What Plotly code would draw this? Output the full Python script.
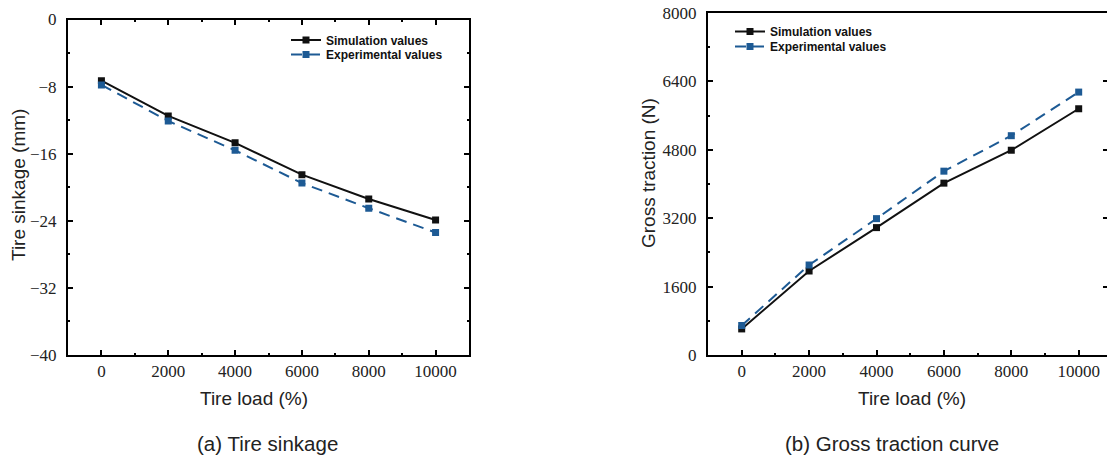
import plotly.graph_objects as go

# ---- data ----
tire_load = [0, 2000, 4000, 6000, 8000, 10000]
sinkage_sim = [-7.3, -11.5, -14.7, -18.5, -21.4, -23.9]
sinkage_exp = [-7.8, -12.1, -15.6, -19.5, -22.5, -25.4]
traction_sim = [610, 1965, 2980, 4020, 4790, 5760]
traction_exp = [690, 2105, 3190, 4300, 5130, 6150]

x_ticks = [0, 2000, 4000, 6000, 8000, 10000]
x_tick_text = ["0", "2000", "4000", "6000", "8000", "10000"]
sink_ticks = [0, -8, -16, -24, -32, -40]
sink_tick_text = ["0", "−8", "−16", "−24", "−32", "−40"]
trac_ticks = [0, 1600, 3200, 4800, 6400, 8000]
trac_tick_text = ["0", "1600", "3200", "4800", "6400", "8000"]

sim_name = "Simulation values"
exp_name = "Experimental values"

BLACK = "#111111"
BLUE = "#1d5a94"
W, H = 1107, 456

fig = go.Figure()

def add_pair(xa, ya, sim, exp, leg_sim, leg_exp):
    fig.add_trace(go.Scatter(x=tire_load, y=sim, name=sim_name, mode="lines+markers",
                             line=dict(color=BLACK, width=2),
                             marker=dict(symbol="square", size=7, color=BLACK),
                             xaxis=xa, yaxis=ya, legend=leg_sim))
    fig.add_trace(go.Scatter(x=tire_load, y=exp, name=exp_name, mode="lines+markers",
                             line=dict(color=BLUE, width=2, dash="11px,7px"),
                             marker=dict(symbol="square", size=7, color=BLUE),
                             xaxis=xa, yaxis=ya, legend=leg_exp))

add_pair("x", "y", sinkage_sim, sinkage_exp, "legend", "legend2")
add_pair("x2", "y2", traction_sim, traction_exp, "legend3", "legend4")

# dummy trace to activate the right-hand tick axis of panel (b)
fig.add_trace(go.Scatter(x=[None], y=[None], xaxis="x2", yaxis="y3",
                         showlegend=False, hoverinfo="skip"))

tickfont = dict(family="Liberation Serif", size=17, color="#222")
minor_x = dict(ticks="inside", ticklen=2, tickwidth=2, dtick=1000, tick0=0,
               tickcolor="black", showgrid=False)
common_x = dict(showline=True, linecolor="black", linewidth=2, ticks="inside", ticklen=5,
                tickwidth=2, tickcolor="black", showgrid=False, zeroline=False,
                tickvals=x_ticks, ticktext=x_tick_text, tickfont=tickfont,
                automargin=False, minor=minor_x)
common_y = dict(showline=True, linecolor="black", linewidth=2, ticks="inside", ticklen=5,
                tickwidth=2, tickcolor="black", showgrid=False, zeroline=False,
                tickfont=tickfont, ticklabelstandoff=6, automargin=False)

def px_x(p):
    return p / W

def px_y(p):
    return 1 - p / H

leg_font = dict(family="Liberation Sans", size=12, color="#111", weight="bold")

def leg(xp, yp):
    return dict(x=px_x(xp), y=px_y(yp), xanchor="left", yanchor="middle",
                bgcolor="rgba(0,0,0,0)", font=leg_font)

fig.update_layout(
    width=W, height=H,
    template="none",
    margin=dict(l=0, r=0, t=0, b=0, pad=0),
    paper_bgcolor="white", plot_bgcolor="white",
    xaxis=dict(domain=[px_x(68), px_x(469)], range=[-1000, 11000], anchor="y",
               mirror="ticks", **common_x),
    yaxis=dict(domain=[px_y(355), px_y(19.5)], range=[-40, 0], anchor="x",
               tickvals=sink_ticks, ticktext=sink_tick_text, mirror="ticks",
               minor=dict(ticks="inside", ticklen=2, tickwidth=2, dtick=4, tick0=0,
                          tickcolor="black", showgrid=False),
               **common_y),
    xaxis2=dict(domain=[px_x(708), 1.0], range=[-1000, 10840], anchor="y2",
                mirror=True, **common_x),
    yaxis2=dict(domain=[px_y(355), px_y(13)], range=[0, 8000], anchor="x2",
                tickvals=trac_ticks, ticktext=trac_tick_text, mirror=False,
                minor=dict(ticks="inside", ticklen=2, tickwidth=2, dtick=800, tick0=0,
                           tickcolor="black", showgrid=False),
                **common_y),
    yaxis3=dict(overlaying="y2", side="right", anchor="x2", range=[0, 8000],
                showline=False, showgrid=False, zeroline=False, ticks="inside",
                ticklen=4, tickwidth=2, tickcolor="black", tickvals=trac_ticks,
                showticklabels=False, automargin=False),
    legend=leg(286, 40),
    legend2=leg(286, 54.5),
    legend3=leg(730, 31.5),
    legend4=leg(730, 46.5),
    showlegend=True,
)

title_font = dict(family="Liberation Sans", size=19, color="#222")
cap_font = dict(family="Liberation Sans", size=20.5, color="#222")
annos = [
    dict(text="Tire load (%)", x=px_x(254), y=px_y(398), font=title_font),
    dict(text="Tire load (%)", x=px_x(912), y=px_y(398), font=title_font),
    dict(text="Tire sinkage (mm)", x=px_x(18), y=px_y(185), font=title_font, textangle=-90),
    dict(text="Gross traction (N)", x=px_x(648), y=px_y(173), font=title_font, textangle=-90),
    dict(text="(a) Tire sinkage", x=px_x(267), y=px_y(443), font=cap_font),
    dict(text="(b) Gross traction curve", x=px_x(892), y=px_y(443), font=cap_font),
]
for a in annos:
    fig.add_annotation(xref="paper", yref="paper", showarrow=False,
                       xanchor="center", yanchor="middle", **a)

fig.write_html("out.html", config={"displayModeBar": False},
               post_script="document.body.style.margin='0';document.body.style.overflow='hidden';")
